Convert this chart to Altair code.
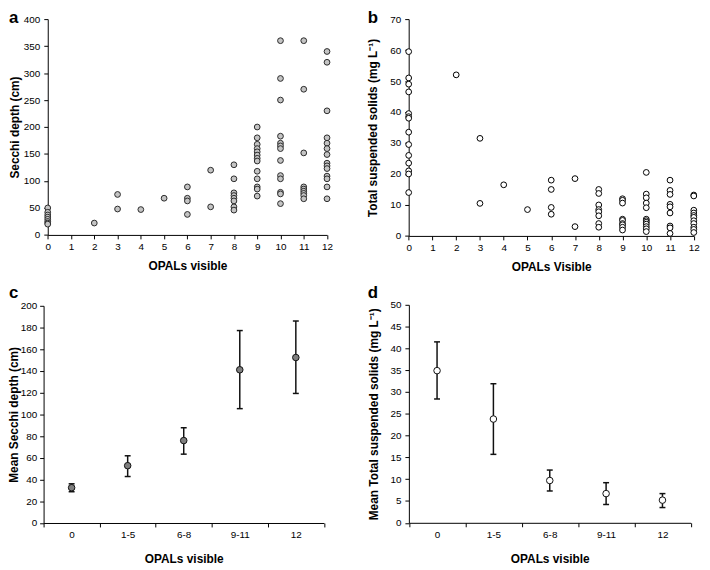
import altair as alt
import pandas as pd

# ---------------- data ----------------
# (a) Secchi depth (cm) by number of OPALs visible
secchi_cm = {
    0: [50, 42, 37, 33, 29, 25, 22, 20],
    2: [22],
    3: [75, 48],
    4: [47],
    5: [68],
    6: [89, 68, 63, 38],
    7: [120, 52],
    8: [130, 104, 78, 73, 68, 63, 52, 46],
    9: [200, 180, 168, 160, 154, 148, 142, 137, 118, 104, 89, 85, 72],
    10: [360, 290, 250, 183, 170, 165, 160, 138, 110, 104, 79, 76, 58],
    11: [360, 270, 152, 89, 85, 81, 77, 73, 67],
    12: [340, 320, 230, 180, 170, 160, 149, 133, 128, 123, 109, 104, 89, 67],
}
# (b) Total suspended solids (mg/L) by number of OPALs visible
tss_mgL = {
    0: [59.5, 51, 49, 46.5, 39.5, 38.5, 38, 33.5, 29.5, 26, 23.5, 21, 20, 14],
    2: [52],
    3: [31.5, 10.5],
    4: [16.5],
    5: [8.5],
    6: [18, 15, 9.2, 7],
    7: [18.5, 3],
    8: [15, 13.7, 10, 8.5, 7.8, 6.5, 4, 2.8],
    9: [12, 11.5, 10.6, 5.4, 5, 4, 3.6, 2.8, 1.9],
    10: [20.5, 13.5, 12.3, 10.6, 9.1, 5.4, 4.9, 4.4, 3.8, 3, 2.3, 1.4],
    11: [18, 14.7, 13.4, 10.2, 9.4, 7.4, 3.2, 2.6, 0.8],
    12: [13.2, 12.9, 8.3, 7.4, 6.6, 6, 4.9, 4, 2.8, 2.1, 1.1],
}
# (c), (d) group means with error bars
groups = ["0", "1-5", "6-8", "9-11", "12"]
secchi_mean = [32.5, 52.8, 75.9, 141.1, 152.4]
secchi_low = [28.8, 42.8, 63.4, 105.3, 119.3]
secchi_high = [36.1, 61.9, 87.7, 177.2, 186.0]
tss_mean = [34.9, 23.8, 9.7, 6.7, 5.2]
tss_low = [28.4, 15.7, 7.3, 4.2, 3.5]
tss_high = [41.5, 31.9, 12.1, 9.2, 6.7]
opals_ticks = list(range(13))
panel_letters = ["a", "b", "c", "d"]

# ---------------- layout ----------------
W, H = 702, 562
FONT = "Liberation Sans"
BLACK = "#000000"


def ax(title, orient, offset, values, title_pad, label_pad, **kw):
    return alt.Axis(
        title=title, orient=orient, offset=offset, values=values, grid=False,
        domainColor=BLACK, domainWidth=1, tickColor=BLACK, tickWidth=1, tickSize=4,
        labelFont=FONT, labelFontSize=10, labelColor=BLACK, labelPadding=label_pad,
        labelOverlap=False, labelFlush=False, labelAngle=0,
        titleFont=FONT, titleFontSize=12, titleFontWeight="bold", titleColor=BLACK,
        titlePadding=title_pad, **kw)


df_a = pd.DataFrame([(k, v) for k, vs in secchi_cm.items() for v in vs], columns=["opals", "val"])
df_b = pd.DataFrame([(k, v) for k, vs in tss_mgL.items() for v in vs], columns=["opals", "val"])
df_c = pd.DataFrame({"grp": groups, "m": secchi_mean, "lo": secchi_low, "hi": secchi_high})
df_d = pd.DataFrame({"grp": groups, "m": tss_mean, "lo": tss_low, "hi": tss_high})

# panel a
xa = [40.2, 322.7]; ya = [226.3, 8]
panel_a = alt.Chart(df_a).mark_circle(size=34, color="#c4c4c4", stroke="#2a2a2a", strokeWidth=1, opacity=1).encode(
    x=alt.X("opals:Q", scale=alt.Scale(domain=[0, 12], range=xa, nice=False, zero=False),
            axis=ax("OPALs visible", "bottom", ya[0] - H, opals_ticks, 9, 3)),
    y=alt.Y("val:Q", scale=alt.Scale(domain=[0, 400], range=ya, nice=False),
            axis=ax("Secchi depth (cm)", "left", -xa[0], list(range(0, 401, 50)), 2, 4)),
)

# panel b
xb = [405.3, 693.7]; yb = [227.3, 8]
panel_b = alt.Chart(df_b).mark_circle(size=34, color="#ffffff", stroke=BLACK, strokeWidth=1, opacity=1).encode(
    x=alt.X("opals:Q", scale=alt.Scale(domain=[0, 12], range=xb, nice=False, zero=False),
            axis=ax("OPALs Visible", "bottom", yb[0] - H, opals_ticks, 9, 3)),
    y=alt.Y("val:Q", scale=alt.Scale(domain=[0, 70], range=yb, nice=False),
            axis=ax("Total suspended solids  (mg L\u207b\u00b9)", "left", -xb[0], list(range(0, 71, 10)), 10, 4)),
)


def mean_panel(df, xr, yr, dom, step, ytitle, fill, ytpad, ylpad):
    xenc = alt.X("grp:N", sort=groups,
                 scale=alt.Scale(type="band", domain=groups, range=xr, paddingInner=0, paddingOuter=0),
                 axis=ax("OPALs visible", "bottom", yr[0] - H, groups, 14, 3, tickBand="extent"))
    yscale = alt.Scale(domain=[0, dom], range=yr, nice=False)
    yax = ax(ytitle, "left", -xr[0], list(range(0, dom + 1, step)), ytpad, ylpad)
    base = alt.Chart(df)
    rules = base.mark_rule(color="#111111", strokeWidth=1.5).encode(
        x=xenc, y=alt.Y("lo:Q", scale=yscale, axis=yax), y2="hi:Q")
    cap_lo = base.mark_tick(orient="horizontal", size=6, thickness=1.5, color="#111111", opacity=1).encode(
        x=xenc, y=alt.Y("lo:Q", scale=yscale, axis=yax))
    cap_hi = base.mark_tick(orient="horizontal", size=6, thickness=1.5, color="#111111", opacity=1).encode(
        x=xenc, y=alt.Y("hi:Q", scale=yscale, axis=yax))
    pts = base.mark_circle(size=44, color=fill, stroke="#111111", strokeWidth=1, opacity=1).encode(
        x=xenc, y=alt.Y("m:Q", scale=yscale, axis=yax))
    return alt.layer(rules, cap_lo, cap_hi, pts)


panel_c = mean_panel(df_c, [36, 319.5], [517.7, 298], 200, 20, "Mean Secchi depth (cm)", "#7f7f7f", 0, 3)
panel_d = mean_panel(df_d, [405.5, 690.5], [517.5, 297], 50, 5,
                     "Mean Total suspended solids (mg L\u207b\u00b9)", "#ffffff", 10, 4)

letter_pos = [(1, 12), (364, 12), (1, 290), (364, 290)]
letters = [
    alt.Chart(pd.DataFrame({"t": [t]})).mark_text(
        font=FONT, fontSize=17, fontWeight="bold", color=BLACK, align="left", baseline="alphabetic"
    ).encode(text="t:N", x=alt.value(px), y=alt.value(py))
    for t, (px, py) in zip(panel_letters, letter_pos)
]

chart = alt.layer(panel_a, panel_b, panel_c, panel_d, *letters).resolve_scale(
    x="independent", y="independent"
).properties(
    width=W, height=H, padding=0, autosize=alt.AutoSizeParams(type="none"), background="#ffffff"
).configure_view(stroke=None)

chart.save("out.html", embed_options={"renderer": "svg", "actions": False})
